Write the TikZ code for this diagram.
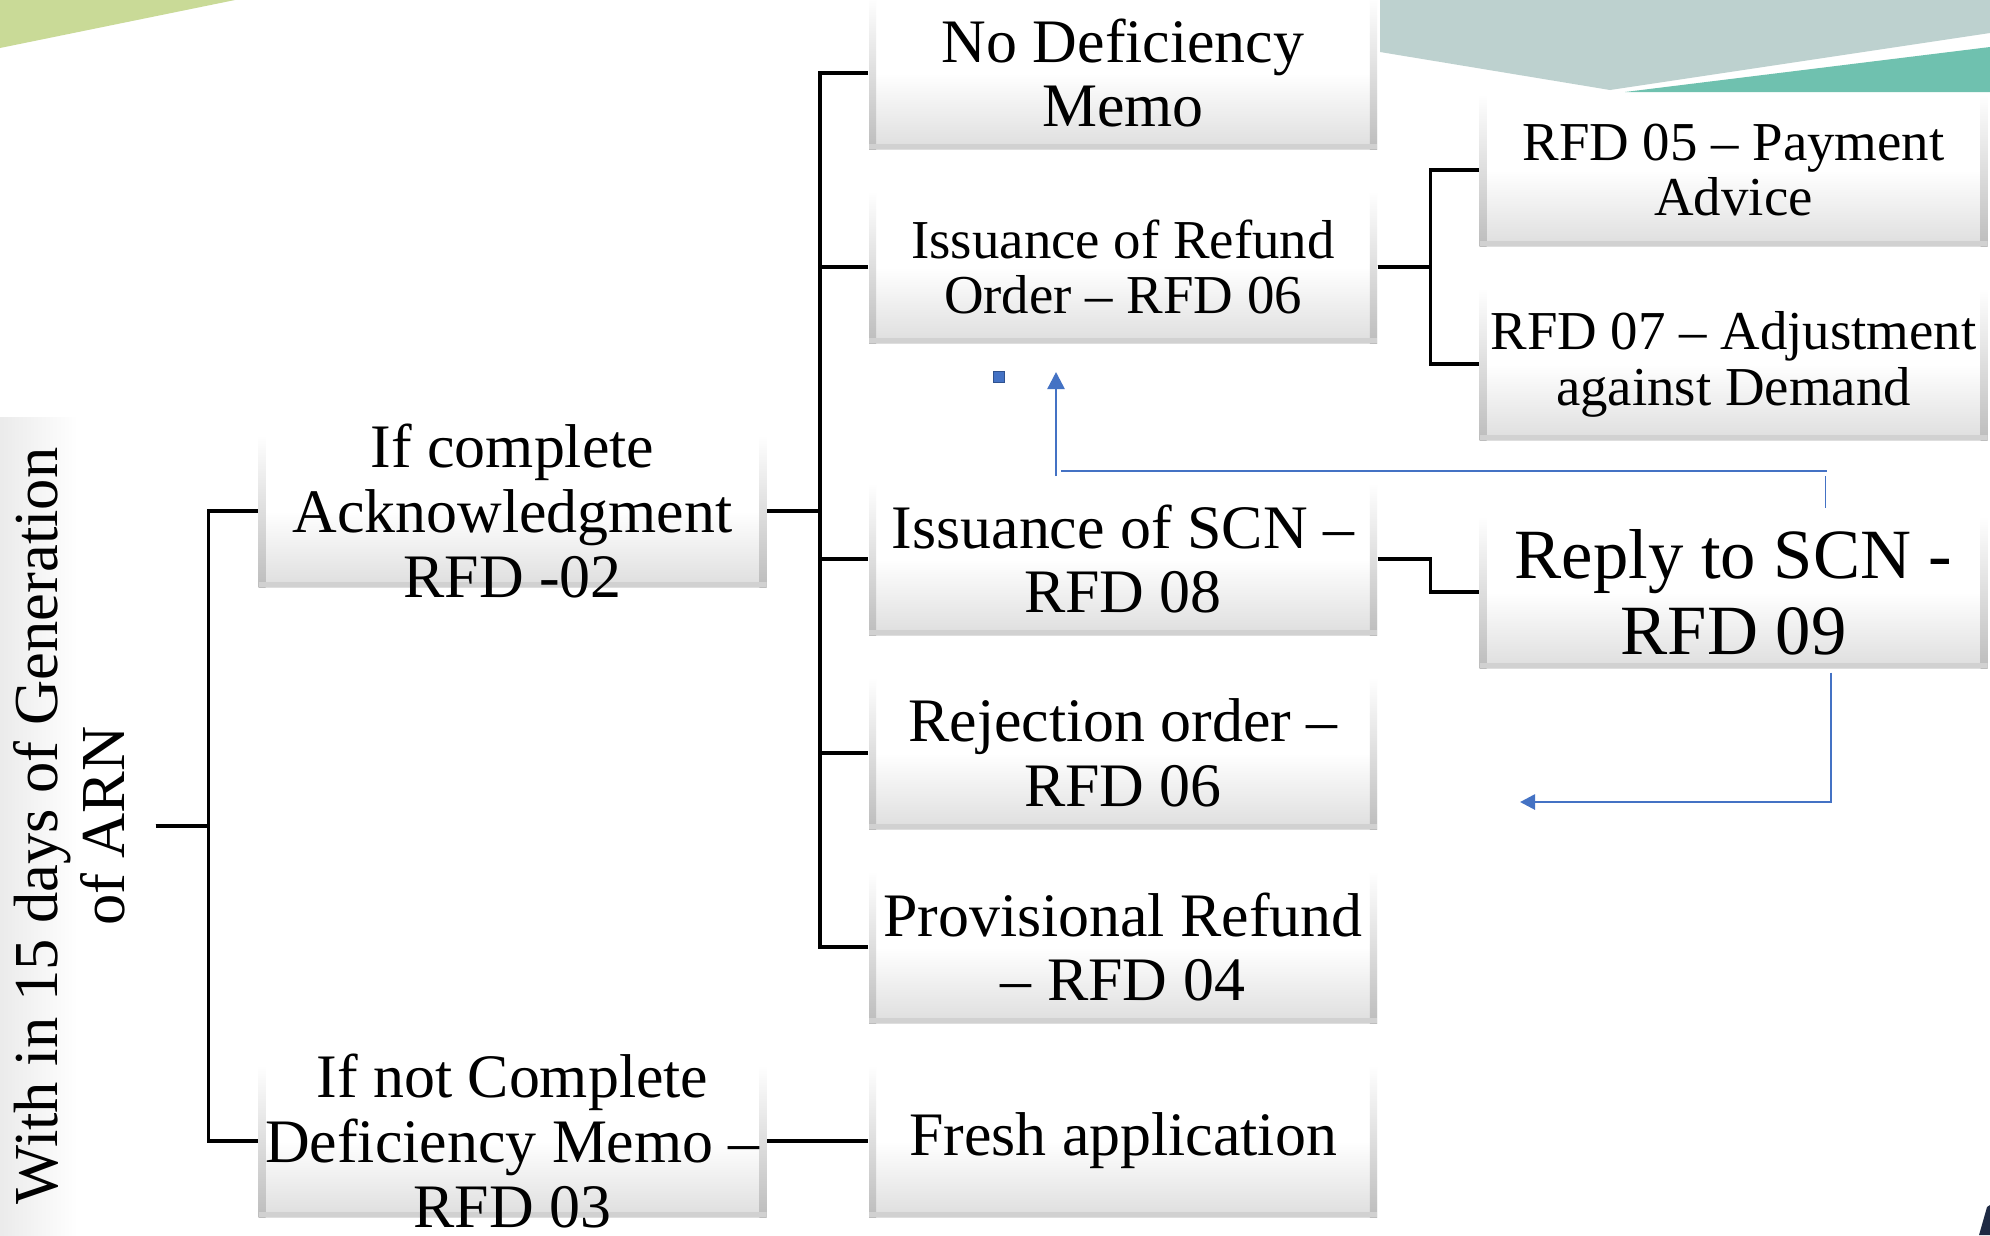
\documentclass[tikz,border=0pt]{standalone}
\usepackage{graphicx}
\usepackage{fontspec}
\setmainfont{Liberation Serif}
\usetikzlibrary{arrows.meta}
\definecolor{leaf}{RGB}{201,218,151}
\definecolor{mist}{RGB}{189,209,207}
\definecolor{lagoon}{RGB}{111,193,175}
\definecolor{flow}{RGB}{68,114,196}
\definecolor{flowdark}{RGB}{47,82,143}
\definecolor{navy}{RGB}{31,42,68}

\begin{document}
\begin{tikzpicture}[
  grow'=right,
  level 1/.style={level distance=4.35cm, sibling distance=6.3cm},
  level 2/.style={level distance=6.105cm, sibling distance=1.94cm},
  level 3/.style={level distance=6.105cm, sibling distance=1.94cm},
  edge from parent/.style={draw, line width=1pt},
  edge from parent path={(\tikzparentnode.east) -- ++(0.53,0) |- (\tikzchildnode.west)},
  bevel/.style={path picture={
    \shade[top color=white, middle color=white, bottom color=black!26]
      (path picture bounding box.north west) rectangle ([xshift=2pt]path picture bounding box.south west);
    \shade[top color=white, middle color=white, bottom color=black!26]
      ([xshift=-2pt]path picture bounding box.north east) rectangle (path picture bounding box.south east);
    \fill[black!18]
      (path picture bounding box.south west) rectangle ([yshift=1.3pt]path picture bounding box.south east);
  }},
  gbox/.style={rectangle, inner sep=0pt, minimum width=5.08cm, minimum height=1.52cm,
    top color=white, bottom color=black!13, middle color=white, bevel},
  gtext/.style={align=center, inner sep=0pt, font=\fontsize{17.6}{18.4}\selectfont},
  smalltxt/.style={font=\fontsize{15.6}{15.9}\selectfont},
  bigtxt/.style={font=\fontsize{20.1}{21.6}\selectfont},
  rootbox/.style={rectangle, inner sep=0pt, minimum width=1.55cm, minimum height=8.18cm,
    left color=black!8, right color=white, middle color=white,
    font=\fontsize{17.8}{19}\selectfont},
  flowline/.style={draw=flow, line width=0.6pt}
]
\useasboundingbox (0,0) rectangle (19.9,-12.35);
\fill[white] (0,0) rectangle (19.9,-12.35);

% slide corners
\fill[leaf] (0,0) -- (2.35,0) -- (0,-0.48) -- cycle;
\fill[mist] (13.80,0) -- (13.80,-0.52) -- (16.10,-0.90) -- (19.90,-0.33) -- (19.90,0) -- cycle;
\fill[lagoon] (16.25,-0.92) -- (19.90,-0.47) -- (19.90,-0.92) -- cycle;
\fill[navy] (19.79,-12.35) -- (19.87,-12.07) -- (19.90,-12.05) -- (19.90,-12.35) -- cycle;

\node[rootbox] (arn) at (0.775,-8.26)
  {\rotatebox{90}{\begin{tabular}{@{}c@{}}With in 15 days of Generation\\of ARN\end{tabular}}}
  child {node[gbox, label={[gtext]center:If complete\\Acknowledgment\\RFD -02}] (ack) {}
    child[yshift=0.5cm] {node[gbox, label={[gtext]center:No Deficiency\\Memo}] (nodef) {}}
    child[yshift=0.5cm] {node[gbox, label={[gtext, smalltxt]center:Issuance of Refund\\Order – RFD 06}] (refund) {}
      child {node[gbox, label={[gtext, smalltxt]center:RFD 05 – Payment\\Advice}] (rfd05) {}}
      child {node[gbox, label={[gtext, smalltxt]center:RFD 07 – Adjustment\\against Demand}] (rfd07) {}}
    }
    child[yshift=-0.48cm] {node[gbox, label={[gtext]center:Issuance of SCN –\\RFD 08}] (scn) {}
      child[yshift=-0.33cm] {node[gbox, label={[gtext, bigtxt]center:Reply to SCN -\\RFD 09}] (reply) {}}
    }
    child[yshift=-0.48cm] {node[gbox, label={[gtext]center:Rejection order –\\RFD 06}] (reject) {}}
    child[yshift=-0.48cm] {node[gbox, label={[gtext]center:Provisional Refund\\– RFD 04}] (prov) {}}
  }
  child {node[gbox, label={[gtext]center:If not Complete\\Deficiency Memo –\\RFD 03}] (notdone) {}
    child[edge from parent/.append style={line width=1.3pt}] {node[gbox, label={[gtext]center:Fresh application}] (fresh) {}}
  };

% feedback from the reply
\coordinate (riseend) at (10.56,-4.76);
\coordinate (risetip) at (10.56,-3.72);
\coordinate (barleft) at (10.61,-4.71);
\coordinate (barright) at (18.27,-4.71);
\coordinate (dropstart) at (18.25,-4.76);
\coordinate (dropend) at (18.25,-5.08);
\coordinate (backtip) at (15.20,-8.02);
\draw[flowline, line width=0.7pt, -{Triangle[width=0.17cm, length=0.17cm]}] (riseend) -- (risetip);
\draw[flowline] (barleft) -- (barright);
\draw[flowline, line width=0.3pt] (dropstart) -- (dropend);
\draw[flowline, line width=0.8pt, -{Triangle[width=0.15cm, length=0.15cm]}]
  ([xshift=0.975cm, yshift=-0.04cm]reply.south) |- (backtip);
\node[draw=flowdark, fill=flow, minimum size=0.11cm, inner sep=0pt, line width=0.4pt] (handle) at (9.99,-3.77) {};
\end{tikzpicture}
\end{document}
